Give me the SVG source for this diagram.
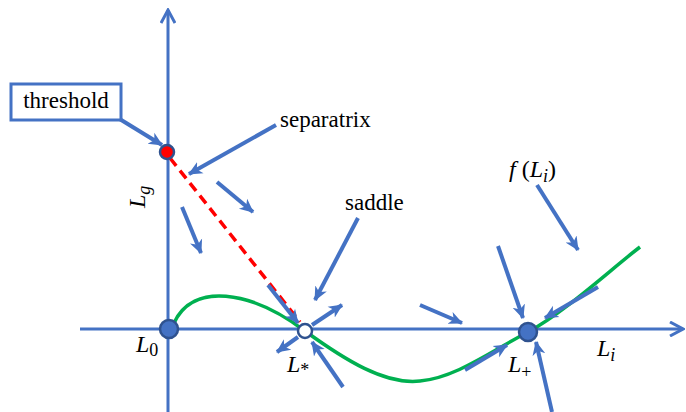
<svg xmlns="http://www.w3.org/2000/svg" width="686" height="412" viewBox="0 0 686 412">
<defs>
<marker id="ah" markerUnits="userSpaceOnUse" markerWidth="15" markerHeight="15" viewBox="0 0 15 15" refX="13" refY="7.5" orient="auto">
<path d="M0,1 L14,7.5 L0,14 L4,7.5 z" fill="#4472c4"/>
</marker>
<marker id="axh" markerUnits="userSpaceOnUse" markerWidth="16" markerHeight="16" viewBox="0 0 16 16" refX="14" refY="8" orient="auto">
<path d="M1,1 L14,8 L1,15" fill="none" stroke="#4472c4" stroke-width="3" stroke-linejoin="miter"/>
</marker>
</defs>
<style>
.ax{stroke:#4472c4;stroke-width:3;fill:none}
.ar{stroke:#4472c4;stroke-width:4;fill:none;marker-end:url(#ah)}
.node{fill:#4472c4;stroke:#2f528f;stroke-width:2.5}
text{font-family:'Liberation Serif','DejaVu Serif','Times New Roman',serif}
</style>
<rect width="686" height="412" fill="#fff"/>
<g id="axes">
<line class="ax" x1="168" y1="412" x2="168" y2="10" marker-end="url(#axh)"/>
<line class="ax" x1="80" y1="329" x2="683" y2="329" marker-end="url(#axh)"/>
</g>
<g id="curve">
<path d="M174,323 C193,282 250,290 305,331 C345,360 385,385 420,381 C455,378 490,352 528,332 C565,312 610,270 640,247" fill="none" stroke="#00b050" stroke-width="3.5"/>
<line x1="170" y1="158" x2="300" y2="322" stroke="#ff0000" stroke-width="3.5" stroke-dasharray="10,6"/>
</g>
<g id="connectors">
<path class="ar" d="M118,118 L162,145"/>
<path class="ar" d="M276,125 L189,174"/>
<path class="ar" d="M217,182 L253,212"/>
<path class="ar" d="M182,207 L201,253"/>
<path class="ar" d="M358,218 L315,300"/>
<path class="ar" d="M268,285 L298,323"/>
<path class="ar" d="M312,325 L342,305"/>
<path class="ar" d="M298,337 L277,352"/>
<path class="ar" d="M343,387 L312,342"/>
<path class="ar" d="M420,305 L462,323"/>
<path class="ar" d="M465,370 L507,345"/>
<path class="ar" d="M598,287 L545,318"/>
<path class="ar" d="M498,246 L523,318"/>
<path class="ar" d="M552,412 L536,342"/>
<path class="ar" d="M537,185 L578,250"/>
</g>
<g id="threshold">
<rect x="11" y="84" width="110" height="36" fill="#fff" stroke="#4472c4" stroke-width="3"/>
<text font-size="23" x="66" y="108" text-anchor="middle">threshold</text>
</g>
<g id="threshold-point">
<circle cx="167" cy="152" r="7" fill="#ff0000" stroke="#2f528f" stroke-width="2.5"/>
</g>
<g id="L0">
<circle class="node" cx="169" cy="329" r="9"/>
<text font-size="24" font-style="italic" x="136" y="352">L<tspan font-style="normal" font-size="18" dy="4">0</tspan></text>
</g>
<g id="Lstar">
<circle cx="305" cy="331" r="7" fill="#fff" stroke="#2f528f" stroke-width="2.5"/>
<text font-size="24" font-style="italic" x="287" y="372">L<tspan font-style="normal" font-size="18" dy="4">*</tspan></text>
</g>
<g id="Lplus">
<circle class="node" cx="528" cy="332" r="9"/>
<text font-size="24" font-style="italic" x="508" y="372">L<tspan font-style="normal" font-size="18" dy="6">+</tspan></text>
</g>
<g id="labels">
<text font-size="23" x="280" y="127">separatrix</text>
<text font-size="23" x="345" y="210">saddle</text>
<text font-size="24" font-style="italic" x="509" y="177">f<tspan font-style="normal"> (</tspan>L<tspan font-size="18" dy="5">i</tspan><tspan font-style="normal" dy="-5">)</tspan></text>
<text font-size="24" font-style="italic" x="597" y="356">L<tspan font-size="18" dy="5">i</tspan></text>
<text font-size="24" font-style="italic" transform="translate(145,208) rotate(-90)">L<tspan font-size="18" dy="5">g</tspan></text>
</g>
</svg>
